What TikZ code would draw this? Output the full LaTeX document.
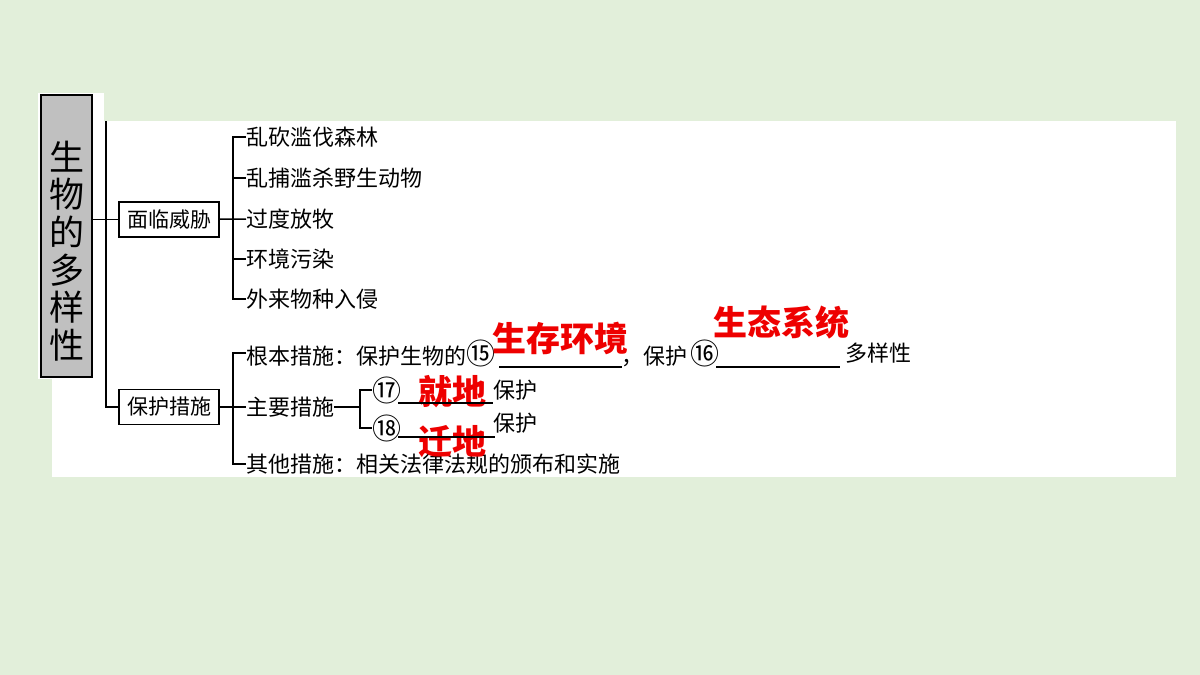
\documentclass[tikz,border=0pt]{standalone}
\usepackage{fontspec}
\setmainfont{Noto Sans CJK SC}
\definecolor{bgcol}{RGB}{226,239,218}
\definecolor{boxcol}{RGB}{192,192,192}
\definecolor{anscol}{RGB}{238,0,0}
\newcommand{\cnum}[1]{{\fontsize{29}{22}\selectfont #1}}
\tikzset{every picture/.style={x=1pt,y=-1pt}}
\tikzset{titlebox/.style={draw,line width=2,fill=boxcol,minimum width=51,minimum height=282,inner sep=0}}
\tikzset{titletext/.style={align=center,inner sep=0,font=\fontsize{35}{37.6}\selectfont}}
\tikzset{labelbox/.style={draw,line width=1.2,minimum width=100,minimum height=35,inner sep=0,font=\fontsize{21}{21}\selectfont}}
\tikzset{item/.style={anchor=west,inner sep=0,font=\fontsize{22}{22}\selectfont}}
\tikzset{answer/.style={anscol,inner sep=0,font=\fontsize{34}{34}\selectfont\bfseries}}
\tikzset{branch/.style={line width=1.5}}
\tikzset{blank/.style={line width=1.2}}
\begin{document}
\begin{tikzpicture}
\useasboundingbox (0,0) rectangle (1200,675);
\fill [bgcol] (0,0) rectangle (1200,675);
\fill [white] (52,121) rectangle (1176,477);
\fill [white] (38,93) rectangle (104,379);

\node [titlebox] (titlebox) at (66.5,236) {};
\node [titletext] (title) at (66.5,251) {生\\物\\的\\多\\样\\性};

\node [labelbox] (threat) at (169,219.5) {面临威胁};
\node [labelbox] (protect) at (169,407) {保护措施};
\coordinate (top) at (106,121);
\draw [branch] (titlebox.east |- threat) -- (threat.west);
\draw [branch] (top) |- (protect.west);

% threats
\node [item] (h1) at (246,137) {乱砍滥伐森林};
\node [item] (h2) at (246,178) {乱捕滥杀野生动物};
\node [item] (h3) at (246,219) {过度放牧};
\node [item] (h4) at (246,259) {环境污染};
\node [item] (h5) at (246,299) {外来物种入侵};
\coordinate (j1) at (233,219);
\draw [branch] (threat) -- (h3.west);
\draw [branch] (h1.west) -| (j1) |- (h5.west);
\draw [branch] (j1 |- h2.west) -- (h2.west);
\draw [branch] (j1 |- h4.west) -- (h4.west);

% measures
\node [item] (m1) at (246,353) {根本措施：保护生物的\cnum{⑮}};
\node [item] (m1b) at (621,353) {，保护\,\cnum{⑯}};
\node [item] (m1c) at (845,353) {多样性};
\node [item] (m2) at (246,407) {主要措施};
\node [item] (m3) at (246,464) {其他措施：相关法律法规的颁布和实施};
\coordinate (j2) at (233,407);
\draw [branch] (protect) -- (m2.west);
\draw [branch] (m1.west) -| (j2) |- (m3.west);

\node [item] (n17) at (372,390) {\cnum{⑰}};
\node [item] (n18) at (372,428) {\cnum{⑱}};
\node [item] (p17) at (493,390) {保护};
\node [item] (p18) at (493,423) {保护};
\coordinate (j3) at (360,407);
\draw [branch] (m2) -- (j3);
\draw [branch] (n17.west) -| (j3) |- (n18.west);

% answers
\node [answer] (a15) at (560,338) {生存环境};
\node [answer] (a16) at (781,323) {生态系统};
\node [answer] (a17) at (452,392) {就地};
\node [answer] (a18) at (452,442) {迁地};

\draw [blank] (499,367) -- (622,367);
\draw [blank] (716,367) -- (840,367);
\draw [blank] (398,403) -- (493,403);
\draw [blank] (398,437) -- (495,437);
\end{tikzpicture}
\end{document}
